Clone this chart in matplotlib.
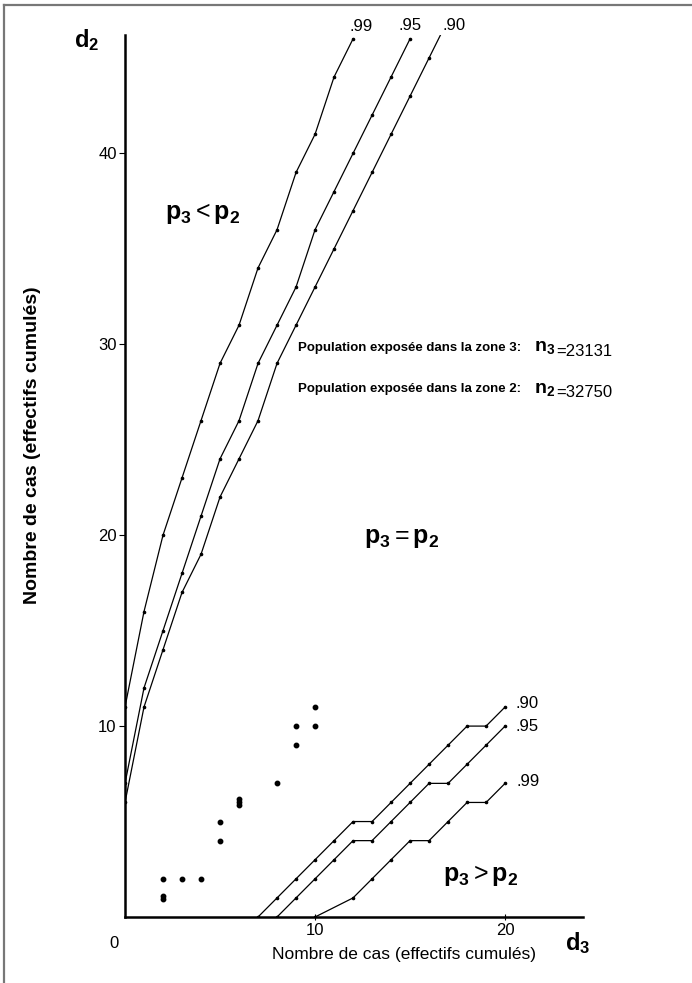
import matplotlib
matplotlib.use("Agg")
import matplotlib.pyplot as plt
from matplotlib.transforms import ScaledTranslation

plt.rcParams['font.family'] = ['Liberation Sans', 'DejaVu Sans']
plt.rcParams['mathtext.fontset'] = 'custom'
plt.rcParams['mathtext.rm'] = 'Liberation Sans'
plt.rcParams['mathtext.bf'] = 'Liberation Sans:bold'
plt.rcParams['mathtext.it'] = 'Liberation Sans:italic'

# upper limits, region p3 < p2 (d2 against d3)
up_d3_99 = list(range(0, 13))
up_d2_99 = [11, 16, 20, 23, 26, 29, 31, 34, 36, 39, 41, 44, 46]
up_d3_95 = list(range(0, 16))
up_d2_95 = [7, 12, 15, 18, 21, 24, 26, 29, 31, 33, 36, 38, 40, 42, 44, 46]
up_d3_90 = list(range(0, 18))
up_d2_90 = [6, 11, 14, 17, 19, 22, 24, 26, 29, 31, 33, 35, 37, 39, 41, 43, 45, 47]

# lower limits, region p3 > p2
lo_d3_90 = list(range(7, 21))
lo_d2_90 = [0, 1, 2, 3, 4, 5, 5, 6, 7, 8, 9, 10, 10, 11]
lo_d3_95 = list(range(8, 21))
lo_d2_95 = [0, 1, 2, 3, 4, 4, 5, 6, 7, 7, 8, 9, 10]
lo_d3_99 = [10, 12, 13, 14, 15, 16, 17, 18, 19, 20]
lo_d2_99 = [0, 1, 2, 3, 4, 4, 5, 6, 6, 7]

# observed cumulative counts (repeated points are stacked)
obs_d3 = [2, 2, 3, 4, 5, 5, 6, 8, 9, 9, 10, 10]
obs_d2 = [1, 2, 2, 2, 4, 5, 6, 7, 9, 10, 10, 11]
obs_n = [2, 1, 1, 1, 1, 1, 3, 1, 1, 1, 1, 1]

W, H = 692, 983
fig = plt.figure(figsize=(W / 100, H / 100), dpi=100)


def fx(px):
    return px / W


def fy(py):
    return 1 - py / H


# page frame (left and top edges of the scan)
fig.add_artist(plt.Line2D([fx(4), fx(4)], [0, fy(5)], color='#777777', lw=1.6))
fig.add_artist(plt.Line2D([fx(4), 1], [fy(5), fy(5)], color='#777777', lw=1.6))

ax = fig.add_axes([fx(125), fy(917), fx(583) - fx(125), fy(35) - fy(917)])
ax.set_xlim(0, 24.1)
ax.set_ylim(0, 46.2)

line_kw = dict(color='black', lw=0.9, marker='o', ms=1.6)
ax.plot(up_d3_99, up_d2_99, **line_kw)
ax.plot(up_d3_95, up_d2_95, **line_kw)
ax.plot(up_d3_90, up_d2_90, **line_kw)
ax.plot(lo_d3_90, lo_d2_90, **line_kw)
ax.plot(lo_d3_95, lo_d2_95, **line_kw)
ax.plot(lo_d3_99, lo_d2_99, **line_kw)

for x, y, n in zip(obs_d3, obs_d2, obs_n):
    for k in range(n):
        dy = (k - (n - 1) / 2) * 3.0 / 100
        tr = ax.transData + ScaledTranslation(0, dy, fig.dpi_scale_trans)
        ax.plot([x], [y], 'o', color='black', ms=3.2, transform=tr)

for s in ['top', 'right']:
    ax.spines[s].set_visible(False)
for s in ['left', 'bottom']:
    ax.spines[s].set_linewidth(1.8)

ax.set_xticks([10, 20])
ax.set_xticklabels(['10', '20'])
ax.set_yticks([10, 20, 30, 40])
ax.set_yticklabels(['10', '20', '30', '40'])
ax.tick_params(axis='x', direction='inout', length=5, width=0.8, labelsize=12, pad=2)
ax.tick_params(axis='y', direction='out', length=4, width=0.8, labelsize=12, pad=2)
ax.text(-0.6, -1.0, '0', ha='center', va='top', fontsize=12)

fig.text(fx(33), fy(445), 'Nombre de cas (effectifs cumulés)', rotation=90,
         ha='center', va='center', fontsize=14, fontweight='bold')
fig.text(fx(404), fy(955), 'Nombre de cas (effectifs cumulés)', ha='center', va='center', fontsize=12.5)
fig.text(fx(87), fy(40), r'$\mathbf{d_2}$', ha='center', va='center', fontsize=17)
fig.text(fx(578), fy(943), r'$\mathbf{d_3}$', ha='center', va='center', fontsize=17)

# confidence level labels
ax.text(12.4, 46.65, '.99', ha='center', va='center', fontsize=12)
ax.text(15.0, 46.7, '.95', ha='center', va='center', fontsize=12)
ax.text(17.3, 46.7, '.90', ha='center', va='center', fontsize=12)
ax.text(20.55, 11.2, '.90', ha='left', va='center', fontsize=12)
ax.text(20.55, 10.0, '.95', ha='left', va='center', fontsize=12)
ax.text(20.6, 7.1, '.99', ha='left', va='center', fontsize=12)

# region labels
fig.text(fx(203), fy(213), r'$\mathbf{p_3} < \mathbf{p_2}$', ha='center', va='center', fontsize=18)
fig.text(fx(402), fy(538), r'$\mathbf{p_3} = \mathbf{p_2}$', ha='center', va='center', fontsize=18)
fig.text(fx(481), fy(876), r'$\mathbf{p_3} > \mathbf{p_2}$', ha='center', va='center', fontsize=18)

# population sizes
for py, zone, val in [(348, '3', '23131'), (389, '2', '32750')]:
    t1 = fig.text(fx(298), fy(py), 'Population exposée dans la zone %s:' % zone,
                  ha='left', va='center', fontsize=9.5, fontweight='bold')
    t2 = ax.annotate(r'$\mathbf{n_%s}$' % zone, xy=(1, 0.5), xycoords=t1,
                     xytext=(9, 0), textcoords='offset points',
                     ha='left', va='center', fontsize=14)
    ax.annotate('=' + val, xy=(1, 0.3), xycoords=t2,
                xytext=(1, 0), textcoords='offset points',
                ha='left', va='center', fontsize=12)

fig.savefig('out.png', dpi=100)
